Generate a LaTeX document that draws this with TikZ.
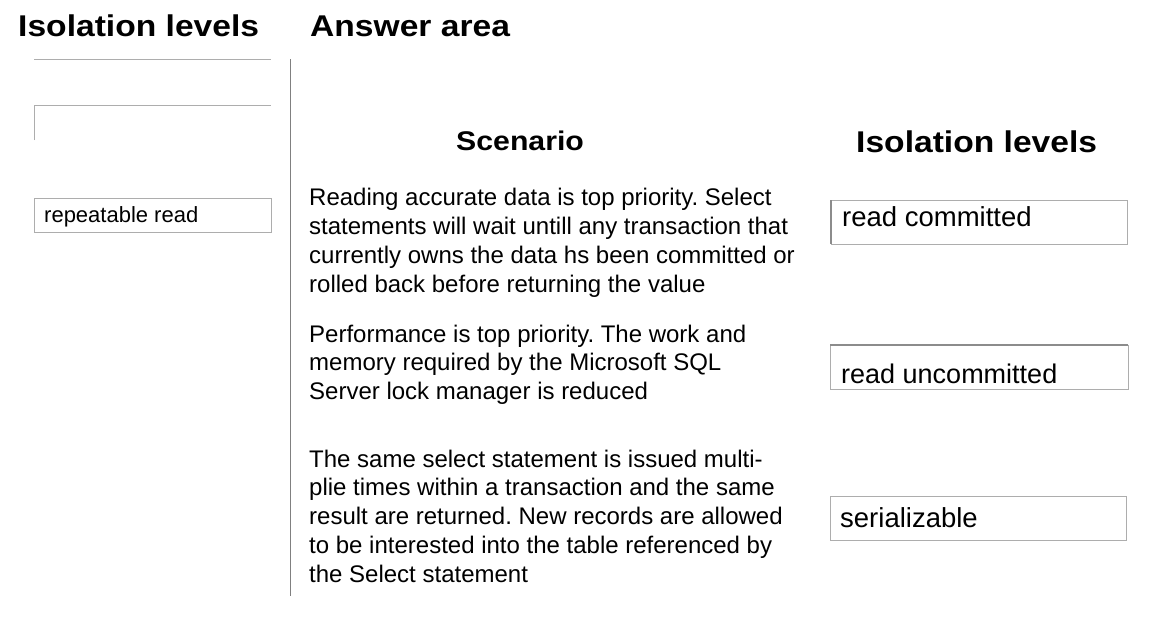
\documentclass[tikz,border=0pt]{standalone}
\usepackage{fontspec}
\setmainfont{Liberation Sans}
\newfontfamily\headfont[FakeStretch=1.12]{Liberation Sans}
\frenchspacing
\begin{document}
\begin{tikzpicture}[x=1pt,y=-1pt,
  heading/.style={anchor=base west,inner sep=0pt,font=\headfont\bfseries\fontsize{30}{34}\selectfont},
  para/.style={anchor=base west,inner sep=0pt,font=\fontsize{24}{29}\selectfont},
  boxline/.style={draw=black!32,line width=1pt},
  divider/.style={draw=black!50,line width=1pt},
  lefttext/.style={anchor=base west,inner sep=0pt,font=\fontsize{22}{26}\selectfont},
  righttext/.style={anchor=base west,inner sep=0pt,font=\fontsize{27.5}{32}\selectfont}]
\useasboundingbox[fill=white] (0,0) rectangle (1157,622);
% headings
\node[heading] (h1) at (18,36) {Isolation levels};
\node[heading] (h2) at (310,36) {Answer area};
\node[heading,font=\headfont\bfseries\fontsize{27}{30}\selectfont] (h3) at (456,150) {Scenario};
\node[heading] (h4) at (856,152) {Isolation levels};
% divider
\draw[divider] (290,59) -- (290,596);
% left panel
\draw[boxline] (34,59) -- (271,59);
\draw[boxline] (34,140) -- (34,105) -- (271,105);
\draw[boxline] (34,198) rectangle (271,232);
\node[lefttext] (rr) at (44,222) {repeatable read};
% scenarios
\node[para] (s1) at (309,205) {\parbox[t]{520pt}{\raggedright\baselineskip=29pt
Reading accurate data is top priority. Select\\
statements will wait untill any transaction that\\
currently owns the data hs been committed or\\
rolled back before returning the value}};
\node[para] (s2) at (309,342) {\parbox[t]{520pt}{\raggedright\baselineskip=28.6pt
Performance is top priority. The work and\\
memory required by the Microsoft SQL\\
Server lock manager is reduced}};
\node[para] (s3) at (309,467) {\parbox[t]{520pt}{\raggedright\baselineskip=28.8pt
The same select statement is issued multi-\\
plie times within a transaction and the same\\
result are returned. New records are allowed\\
to be interested into the table referenced by\\
the Select statement}};
% right boxes
\draw[boxline] (831,200) rectangle (1127,244);
\draw[draw=black!45,line width=1.5pt] (831,200) -- (831,244);
\node[righttext] (rc) at (842,226) {read committed};
\draw[boxline] (830,345) rectangle (1128,389);
\draw[draw=black!45,line width=1.5pt] (830,345) -- (1128,345);
\node[righttext,font=\fontsize{27}{32}\selectfont] (ru) at (841,383) {read uncommitted};
\draw[boxline] (830,496) rectangle (1126,540);
\node[righttext] (se) at (840,527) {serializable};
\end{tikzpicture}
\end{document}
